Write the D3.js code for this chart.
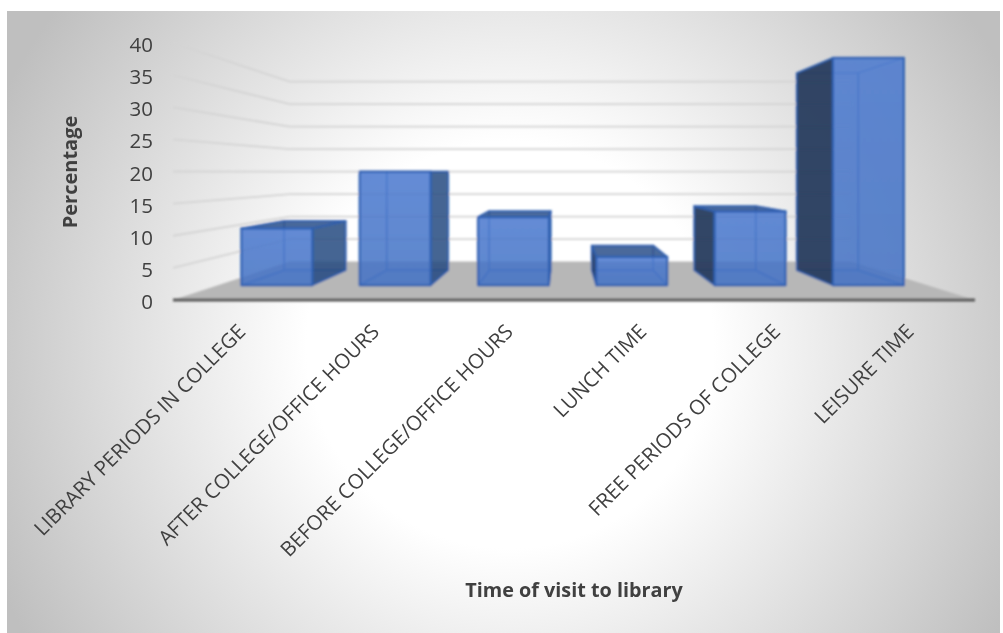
<!DOCTYPE html>
<html><head><meta charset="utf-8">
<script src="https://cdn.jsdelivr.net/npm/d3@7"></script>
<style>html,body{margin:0;padding:0;background:#fff}svg{display:block}text{font-family:"Open Sans",sans-serif}</style>
</head><body><div id="c"></div>
<script>
const categories = ["LIBRARY PERIODS IN COLLEGE","AFTER COLLEGE/OFFICE HOURS","BEFORE COLLEGE/OFFICE HOURS","LUNCH TIME","FREE PERIODS OF COLLEGE","LEISURE TIME"];
const values = [10,20,12,5,13,40];
const tickValues = [0,5,10,15,20,25,30,35,40];
const xTitle = "Time of visit to library";
const yTitle = "Percentage";

const W=1003,H=633;
const svg=d3.select("#c").append("svg").attr("width",W).attr("height",H);
const defs=svg.append("defs");
const rg=defs.append("radialGradient").attr("id","bg").attr("gradientUnits","userSpaceOnUse")
  .attr("cx",510).attr("cy",345).attr("r",565);
[[0,"#ffffff"],[0.36,"#ffffff"],[1,"#bfbfbf"]].forEach(s=>rg.append("stop").attr("offset",s[0]).attr("stop-color",s[1]));
const fg=defs.append("linearGradient").attr("id","frontFill").attr("x1",0).attr("y1",0).attr("x2",0).attr("y2",1);
[[0,"#4a79cf"],[1,"#4472c4"]].forEach(s=>fg.append("stop").attr("offset",s[0]).attr("stop-color",s[1]));
defs.append("filter").attr("id","soft").attr("x","-5%").attr("y","-5%").attr("width","110%").attr("height","110%")
  .append("feGaussianBlur").attr("stdDeviation",0.9);
defs.append("filter").attr("id","softText").attr("x","-5%").attr("y","-5%").attr("width","110%").attr("height","110%")
  .append("feGaussianBlur").attr("stdDeviation",0.35);

svg.append("rect").attr("x",7).attr("y",11).attr("width",993).attr("height",622).attr("fill","url(#bg)");

const x=d3.scaleBand().domain(categories).range([173,975]);
const y=d3.scaleLinear().domain([0,40]).range([300,43]);
const vp={x:562,y:172};
const persp=0.4286;
const proj=(fx,v,d)=>{const s=1/(1+persp*d);return [vp.x+(fx-vp.x)*s, vp.y+(y(v)-vp.y)*s];};
const line=d3.line();
const poly=p=>line(p)+"Z";
const barInset=0.2, d0=0.303, d1=0.709;

const g=svg.append("g").attr("filter","url(#soft)");
g.append("path").attr("d",poly([proj(173,0,0),proj(975,0,0),proj(975,0,1),proj(173,0,1)])).attr("fill","#b7b7b7");
g.selectAll("path.grid").data(tickValues.filter(t=>t>0)).join("path").attr("class","grid")
  .attr("d",t=>line([proj(173,t,0),proj(173,t,1),proj(975,t,1)]))
  .attr("fill","none").attr("stroke","#d4d4d4").attr("stroke-width",1.8);
const edge="#2f5fb0";
categories.forEach((c,i)=>{
  const v=values[i], bw=x.bandwidth(), l=x(c)+bw*barInset, r=x(c)+bw*(1-barInset);
  const P=(fx,val,d)=>proj(fx,val,d);
  const bar=g.append("g");
  const face=(pts,fill,op,sw,so)=>bar.append("path").attr("d",poly(pts)).attr("fill",fill).attr("fill-opacity",op)
     .attr("stroke",edge).attr("stroke-width",sw).attr("stroke-opacity",so).attr("stroke-linejoin","round");
  face([P(l,0,d1),P(r,0,d1),P(r,v,d1),P(l,v,d1)],"none",0,1.6,0.5);
  face([P(l,0,d0),P(r,0,d0),P(r,0,d1),P(l,0,d1)],"#4472c4",0.12,1.6,0.5);
  const rightFrontX=P(r,0,d0)[0], leftFrontX=P(l,0,d0)[0];
  if(rightFrontX<vp.x) face([P(r,0,d0),P(r,0,d1),P(r,v,d1),P(r,v,d0)],"#254a80",0.85,1.8,0.85);
  else face([P(r,0,d0),P(r,0,d1),P(r,v,d1),P(r,v,d0)],"none",0,1.6,0.5);
  if(leftFrontX>vp.x) face([P(l,0,d0),P(l,0,d1),P(l,v,d1),P(l,v,d0)],"#283c5e",0.95,1.8,0.85);
  else face([P(l,0,d0),P(l,0,d1),P(l,v,d1),P(l,v,d0)],"none",0,1.6,0.5);
  if(P(l,v,d0)[1]>vp.y+0.5) face([P(l,v,d0),P(r,v,d0),P(r,v,d1),P(l,v,d1)],"#2c5089",0.85,1.8,0.85);
  face([P(l,0,d0),P(r,0,d0),P(r,v,d0),P(l,v,d0)],"url(#frontFill)",0.86,2.2,0.9);
});
g.append("path").attr("d",line([proj(173,0,0),proj(975,0,0)])).attr("stroke","#595959").attr("stroke-width",3).attr("fill","none");

const txt=svg.append("g").attr("filter","url(#softText)");
const yAxis=txt.append("g").attr("transform","translate(163,2)")
  .call(d3.axisLeft(y).tickValues(tickValues).tickSize(0).tickPadding(0));
yAxis.select(".domain").remove();
yAxis.selectAll("text").attr("font-size",20.5).attr("fill","#404040").style("font-family",'"Open Sans",sans-serif').attr("x",-10);

const xAxis=txt.append("g").attr("transform","translate(0,300)")
  .call(d3.axisBottom(x).tickSize(0));
xAxis.select(".domain").remove();
xAxis.selectAll("text").attr("font-size",20.5).attr("fill","#404040").style("font-family",'"Open Sans",sans-serif')
  .attr("text-anchor","end").attr("dy",0).attr("y",0)
  .attr("transform","translate(7,33) rotate(-45)");

txt.append("text").attr("x",574).attr("y",597).attr("text-anchor","middle").attr("font-size",19.8).attr("font-weight",700).attr("fill","#404040").text(xTitle);
txt.append("text").attr("transform","translate(77,172) rotate(-90)").attr("text-anchor","middle").attr("font-size",20).attr("font-weight",700).attr("fill","#404040").text(yTitle);
</script></body></html>
